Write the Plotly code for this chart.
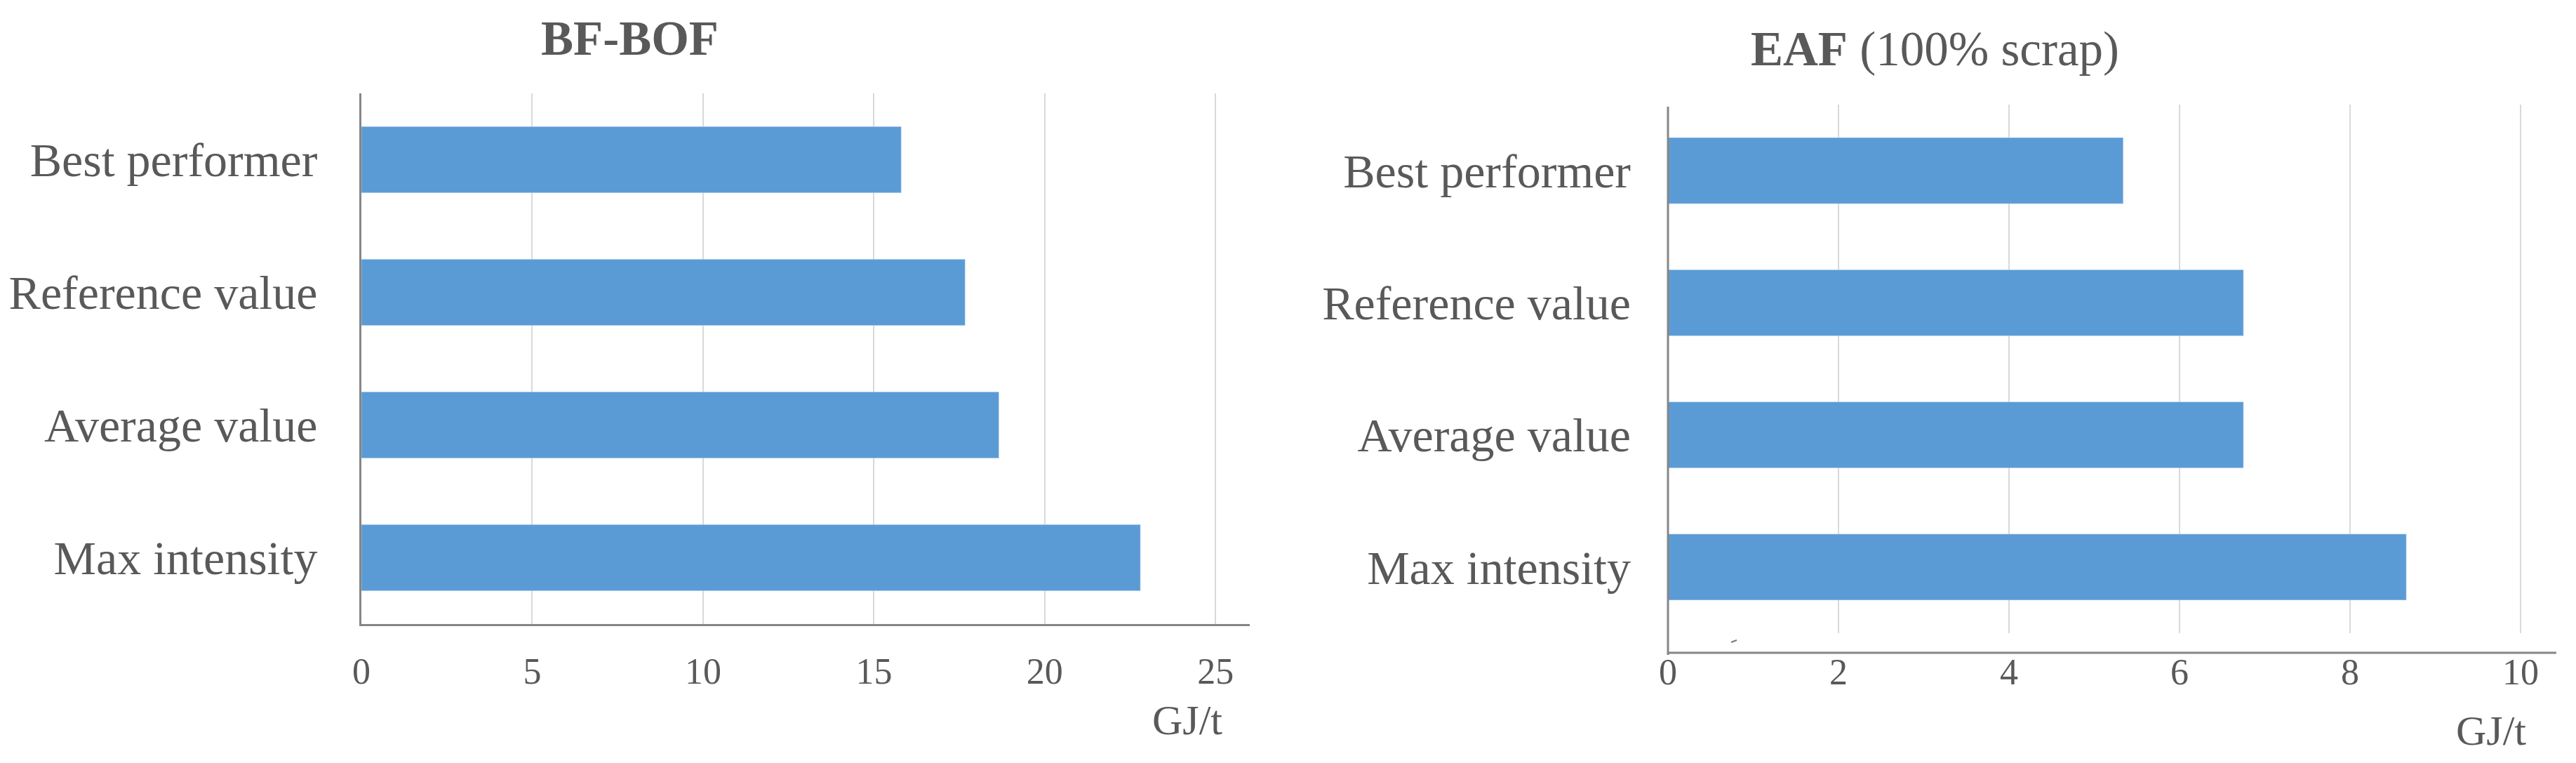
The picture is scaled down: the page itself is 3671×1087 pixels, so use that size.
import plotly.graph_objects as go

W, H = 3671, 1087

categories = ["Best performer", "Reference value", "Average value", "Max intensity"]
bf_bof_values = [15.8, 17.67, 18.66, 22.8]
eaf_values = [5.34, 6.75, 6.75, 8.66]
bf_ticks = [0, 5, 10, 15, 20, 25]
eaf_ticks = [0, 2, 4, 6, 8, 10]
title_left = "<b>BF-BOF</b>"
title_right = "<b>EAF</b> (100% scrap)"
unit_label = "GJ/t"

BAR = "#5B9BD5"
TXT = "#595959"
AXIS = "#868686"
GRID = "#D9D9D9"
FONT = "Liberation Serif, Times New Roman, serif"

def px(x):
    return x / W

def py(y):
    return 1 - y / H

fig = go.Figure()
fig.add_trace(go.Bar(y=categories, x=bf_bof_values, orientation="h", marker_color=BAR,
                     width=0.5, xaxis="x", yaxis="y", showlegend=False))
fig.add_trace(go.Bar(y=categories, x=eaf_values, orientation="h", marker_color=BAR,
                     width=0.5, xaxis="x2", yaxis="y2", showlegend=False))

common_x = dict(showgrid=True, gridcolor=GRID, gridwidth=2, zeroline=False,
                tickfont=dict(family=FONT, size=52, color=TXT), ticks="",
                ticklabelstandoff=20, fixedrange=True, automargin=False)
common_y = dict(autorange="reversed", showgrid=False, zeroline=False, ticks="",
                tickfont=dict(family=FONT, size=68, color=TXT), fixedrange=True,
                automargin=False)

fig.update_layout(
    width=W, height=H,
    margin=dict(l=0, r=0, t=0, b=0, autoexpand=False),
    paper_bgcolor="white", plot_bgcolor="white",
    xaxis=dict(domain=[px(515), px(1781)], range=[0, 26], tickvals=bf_ticks,
               anchor="y", showline=True, linecolor=AXIS, linewidth=3, **common_x),
    yaxis=dict(domain=[py(889), py(133)], anchor="x", showline=True, linecolor=AXIS,
               linewidth=3, ticklabelstandoff=46, **common_y),
    xaxis2=dict(domain=[px(2377), px(3643)], range=[0, 10.42], tickvals=eaf_ticks,
                anchor="y2", showline=False, **common_x),
    yaxis2=dict(domain=[py(902), py(149)], anchor="x2", showline=False,
                ticklabelstandoff=52, **common_y),
    bargap=0.5,
)

# right chart axis lines (x-axis line sits below the plot area in the original)
fig.add_shape(type="line", xref="paper", yref="paper", x0=px(2377), x1=px(3643),
              y0=py(930), y1=py(930), line=dict(color=AXIS, width=3))
fig.add_shape(type="line", xref="paper", yref="paper", x0=px(2377), x1=px(2377),
              y0=py(933), y1=py(152), line=dict(color=AXIS, width=3))
fig.add_shape(type="line", xref="paper", yref="paper", x0=px(2467), x1=px(2475),
              y0=py(915), y1=py(912), line=dict(color="#777777", width=2))

fig.add_annotation(text=title_left, xref="paper", yref="paper", x=px(897), y=py(55),
                   xanchor="center", yanchor="middle", showarrow=False,
                   font=dict(family=FONT, size=69, color=TXT))
fig.add_annotation(text=title_right, xref="paper", yref="paper", x=px(2757), y=py(70),
                   xanchor="center", yanchor="middle", showarrow=False,
                   font=dict(family=FONT, size=69, color=TXT))
fig.add_annotation(text=unit_label, xref="paper", yref="paper", x=px(1692), y=py(1026),
                   xanchor="center", yanchor="middle", showarrow=False,
                   font=dict(family=FONT, size=60, color=TXT))
fig.add_annotation(text=unit_label, xref="paper", yref="paper", x=px(3550), y=py(1041),
                   xanchor="center", yanchor="middle", showarrow=False,
                   font=dict(family=FONT, size=60, color=TXT))

fig.write_html("out.html", config={"displayModeBar": False},
               post_script="document.body.style.margin='0';document.body.style.overflow='hidden';")
